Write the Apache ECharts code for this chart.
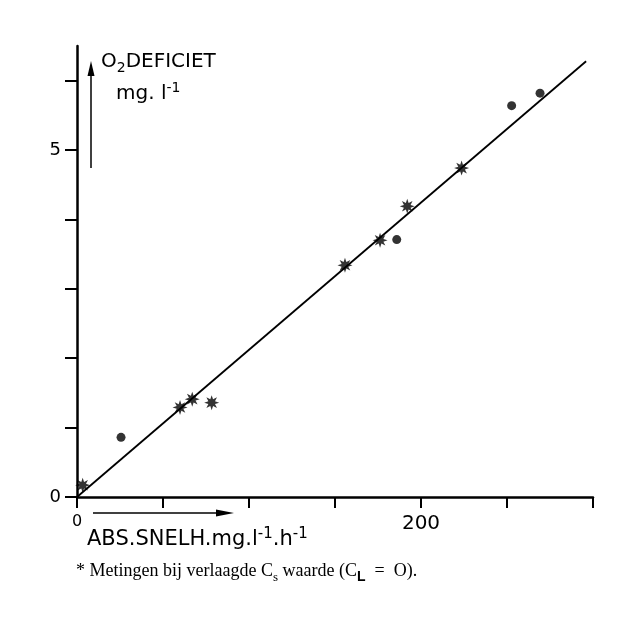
<!DOCTYPE html>
<html lang="nl">
<head>
    <meta charset="UTF-8"/>
    <title>O2 deficiet</title>
    <script type="text/javascript" src="https://cdn.jsdelivr.net/npm/echarts@6/dist/echarts.min.js"></script>
    <style>
        html, body { margin: 0; padding: 0; background: #fff; }
        #main { width: 633px; height: 620px; }
    </style>
</head>
<body>
<div id="main"></div>
<script type="text/javascript">
    // metingen bij verlaagde Cs waarde (sterretjes)
    var starPoints = [[3.3, 0.17], [59.9, 1.29], [67.0, 1.41], [78.3, 1.36],
        [155.8, 3.34], [176.2, 3.70], [192.0, 4.19], [223.6, 4.74]];
    // overige metingen (punten)
    var dotPoints = [[25.6, 0.86], [185.9, 3.71], [252.7, 5.64], [269.2, 5.82]];
    // getrokken regressielijn
    var fitLine = [[0, 0], [296, 6.28]];

    var xTicks = [0, 50, 100, 150, 200, 250, 300];
    var xLabels = [0, 200];
    var yTicks = [0, 1, 2, 3, 4, 5, 6];
    var yLabels = [0, 5];

    // sterretje als symbool
    function starPath() {
        var p = [];
        for (var i = 0; i < 16; i++) {
            var r = i % 2 === 0 ? 10 : 4.8;
            var a = Math.PI * i / 8 - Math.PI / 2;
            p.push((i === 0 ? 'M' : 'L') + (10 + r * Math.cos(a)).toFixed(2) + ' ' + (10 + r * Math.sin(a)).toFixed(2));
        }
        return 'path://' + p.join(' ') + ' Z';
    }

    var sans = 'DejaVu Sans';
    var serif = 'Liberation Serif';
    // rich text: normaal, subscript, superscript
    function richStyles(size, family) {
        return {
            n: { fontSize: size, fontFamily: family, lineHeight: 26, fill: '#000' },
            sub: { fontSize: Math.round(size * 0.7), fontFamily: family, lineHeight: 12, verticalAlign: 'bottom', fill: '#000' },
            subb: { fontSize: Math.round(size * 0.8), fontFamily: 'Liberation Sans', fontWeight: 'bold', lineHeight: 13, verticalAlign: 'bottom', fill: '#000' },
            sup: { fontSize: Math.round(size * 0.7), fontFamily: family, lineHeight: 11, verticalAlign: 'top', fill: '#000' }
        };
    }

    var myChart = echarts.init(document.getElementById('main'));

    var option = {
        backgroundColor: '#fff',
        animation: false,
        grid: { left: 77, right: 40, top: 46, bottom: 123 },
        xAxis: {
            type: 'value', min: 0, max: 300, interval: 50,
            splitLine: { show: false },
            axisLine: { onZero: false, lineStyle: { color: '#000', width: 2.5 } },
            axisTick: { customValues: xTicks, length: 11, lineStyle: { color: '#000', width: 2 } },
            axisLabel: {
                customValues: xLabels, margin: 17, color: '#000',
                fontFamily: sans, fontSize: 20,
                formatter: function (v) { return v === 0 ? '{s|0}' : '' + v; },
                rich: { s: { fontSize: 16, fontFamily: sans, color: '#000' } }
            }
        },
        yAxis: {
            type: 'value', min: 0, max: 6.5, interval: 1,
            splitLine: { show: false },
            axisLine: { onZero: false, lineStyle: { color: '#000', width: 2.5 } },
            axisTick: { customValues: yTicks, length: 12, lineStyle: { color: '#000', width: 2 } },
            axisLabel: {
                customValues: yLabels, margin: 16, color: '#000',
                fontFamily: sans, fontSize: 18
            }
        },
        series: [
            {
                type: 'line', data: fitLine, showSymbol: false, silent: true,
                lineStyle: { color: '#000', width: 1.8 }
            },
            {
                type: 'scatter', data: starPoints, symbol: starPath(), symbolSize: 15,
                itemStyle: { color: '#000' }
            },
            {
                type: 'scatter', data: dotPoints, symbol: 'circle', symbolSize: 9,
                itemStyle: { color: '#000' }
            }
        ],
        graphic: [
            // pijl langs de y-as
            { type: 'line', shape: { x1: 91, y1: 168, x2: 91, y2: 72 }, style: { stroke: '#000', lineWidth: 1.5 } },
            { type: 'polygon', shape: { points: [[91, 61], [87.5, 76], [94.5, 76]] }, style: { fill: '#000' } },
            // pijl langs de x-as
            { type: 'line', shape: { x1: 93, y1: 513, x2: 220, y2: 513 }, style: { stroke: '#000', lineWidth: 1.5 } },
            { type: 'polygon', shape: { points: [[234, 513], [216, 509.5], [216, 516.5]] }, style: { fill: '#000' } },
            {
                type: 'text', x: 101, y: 49,
                style: { text: '{n|O}{sub|2}{n|DEFICIET}', rich: richStyles(20, sans) }
            },
            {
                type: 'text', x: 116, y: 81,
                style: { text: '{n|mg. l}{sup|-1}', rich: richStyles(20, sans) }
            },
            {
                type: 'text', x: 87, y: 527,
                style: { text: '{n|ABS.SNELH.mg.l}{sup|-1}{n|.h}{sup|-1}', rich: richStyles(21, sans) }
            },
            {
                type: 'text', x: 76, y: 558,
                style: {
                    text: '{n|* Metingen bij verlaagde C}{sub|s}{n| waarde (C}{subb|L}{n|  =  O).}',
                    rich: richStyles(18, serif)
                }
            }
        ]
    };

    myChart.setOption(option);
</script>
</body>
</html>
